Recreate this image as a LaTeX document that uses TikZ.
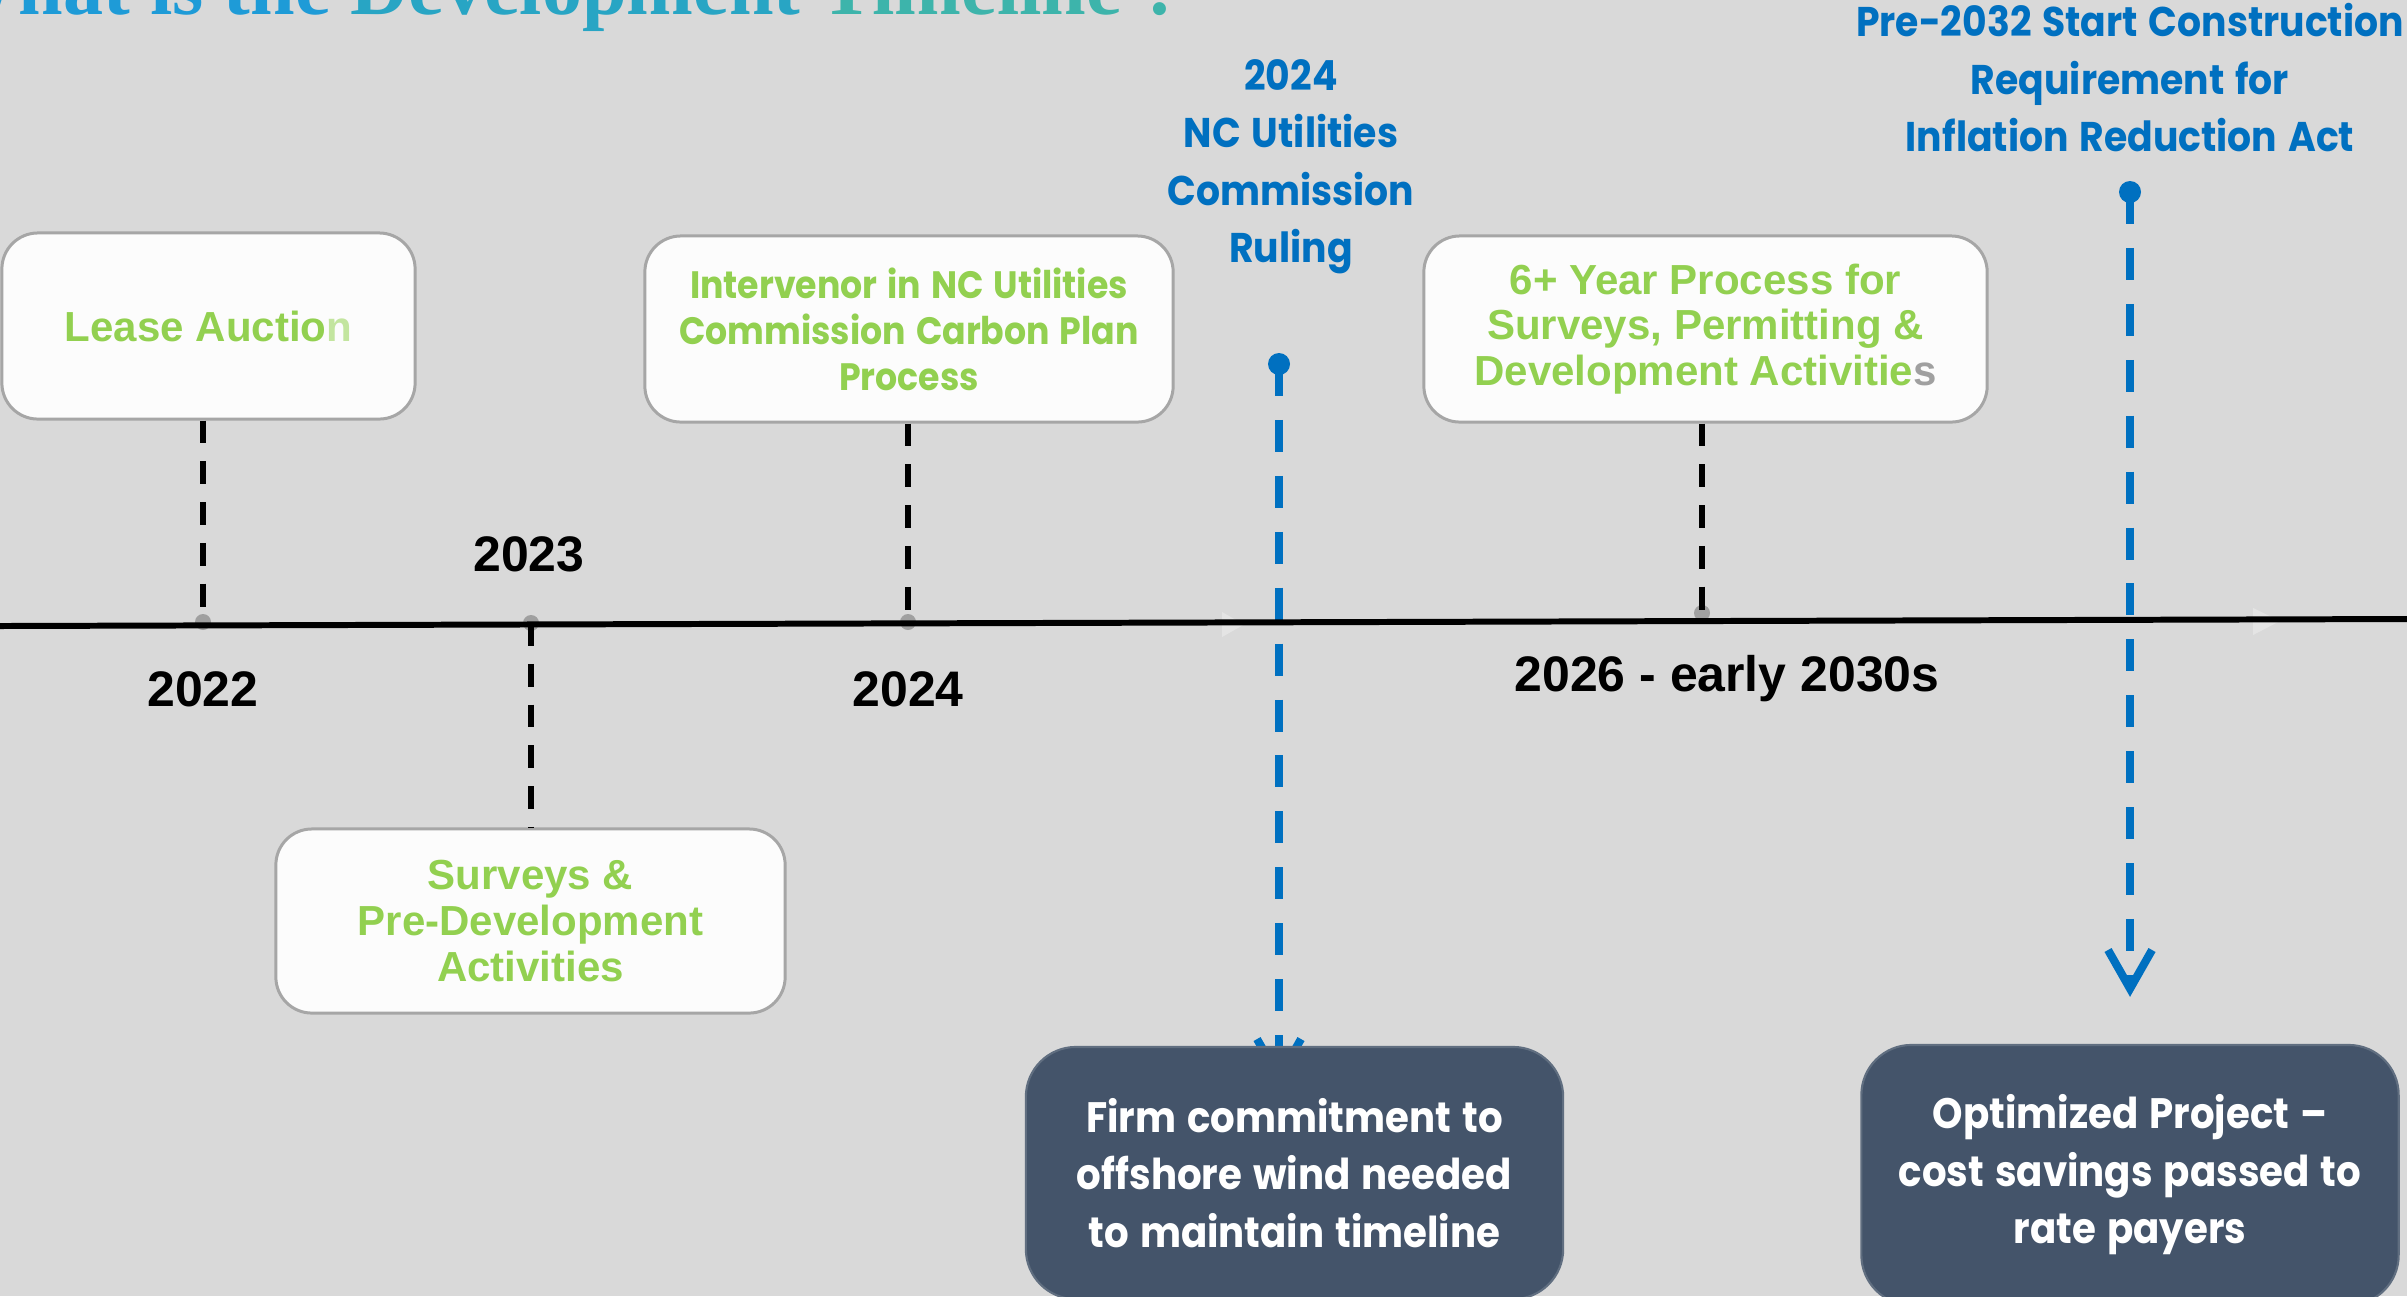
\documentclass[tikz,border=0pt]{standalone}
\usepackage{fontspec}
\setmainfont{Liberation Sans}
\newfontfamily\titleserif{Liberation Serif}
\newfontfamily\geosans[FakeStretch=0.91,WordSpace=1.35]{Poppins}
\usepackage{tikz}
\usetikzlibrary{arrows.meta,backgrounds}

\definecolor{slidebg}{HTML}{D9D9D9}
\definecolor{leafgreen}{HTML}{92D050}
\definecolor{boxline}{HTML}{A6A6A6}
\definecolor{boxfill}{HTML}{FCFCFC}
\definecolor{dotgray}{HTML}{A0A0A0}
\definecolor{pinblue}{HTML}{0070C0}
\definecolor{slate}{HTML}{44546A}
\definecolor{titleA}{HTML}{1E9BD7}
\definecolor{titleB}{HTML}{28A5C4}
\definecolor{titleC}{HTML}{3DB4AB}

% font sizes (1px = 0.01cm)
\newcommand{\greenfont}{\fontsize{11.95pt}{12.95pt}\selectfont\bfseries}
\newcommand{\yearfont}{\fontsize{14.2pt}{16pt}\selectfont\bfseries}
\newcommand{\interfont}{\geosans\fontsize{10.85pt}{13.1pt}\selectfont\bfseries}
\newcommand{\bluefont}{\geosans\fontsize{11.8pt}{16.3pt}\selectfont\bfseries}
\newcommand{\whitefont}{\geosans\fontsize{12.1pt}{16.35pt}\selectfont\bfseries}
\newcommand{\titlefont}{\titleserif\fontsize{22.8pt}{26pt}\selectfont\bfseries}

\newcommand{\drawPin}[3]{% name, center: x,y
  \node[pinhead] (#1) at (#2,#3) {};
}
\newcommand{\drawTick}[3]{% name, center: x,y
  \node[tickdot] (#1) at (#2,#3) {};
}

\begin{document}
\begin{tikzpicture}[x=0.01cm,y=-0.01cm,
  eventbox/.style={draw=boxline,line width=0.85pt,fill=boxfill,rounded corners=0.36cm,
    inner sep=0pt,align=center,text=leafgreen,font=\greenfont,minimum height=1.86cm},
  outcomebox/.style={draw=slate!85!white,line width=0.6pt,fill=slate,rounded corners=0.5cm,
    inner sep=0pt,align=center,text=white,font=\whitefont,minimum width=5.37cm,minimum height=2.52cm},
  tickdot/.style={circle,fill=dotgray,inner sep=0pt,minimum size=0.16cm},
  pinhead/.style={circle,fill=pinblue,inner sep=0pt,minimum size=0.22cm},
  tickline/.style={line width=1.7pt,dash pattern=on 6.5pt off 5.1pt},
  bluelink/.style={pinblue,line width=2.3pt,dash pattern=on 9.1pt off 6.8pt,
    -{Straight Barb[length=11pt,width=12.5pt]}},
  yearlabel/.style={font=\yearfont,anchor=base,inner sep=0pt},
  milestone/.style={font=\bluefont,text=pinblue,align=center,anchor=north,inner sep=0pt}]
\useasboundingbox (0,0) rectangle (2407,1296);

% Title (cut at the top edge)
\node[anchor=base west,inner sep=0pt,font=\titlefont] (title) at (-62,14)
  {\textcolor{titleA}{What is the} \textcolor{titleB}{Development} \textcolor{titleC}{Timeline ?}};

% Event boxes
\node[eventbox,minimum width=4.13cm] (lease) at (208.5,326) {Lease Auctio{\color{leafgreen!55!white}n}};
\node[eventbox,minimum width=5.28cm,font=\interfont] (interv) at (909,329)
  {Intervenor in NC Utilities\\Commission Carbon Plan\\Process};
\node[eventbox,minimum width=5.63cm] (six) at (1705.5,329)
  {6+ Year Process for\\Surveys, Permitting \&\\Development Activitie{\color{dotgray}s}};
\node[eventbox,minimum width=5.09cm,minimum height=1.84cm] (surv) at (530.5,921)
  {Surveys \&\\Pre-Development\\Activities};

% Outcome boxes
\node[outcomebox] (firm) at (1294.5,1173)
  {Firm commitment to\\offshore wind needed\\to maintain timeline};
\node[outcomebox,minimum height=2.6cm] (opt) at (2130,1175)
  {Optimized Project –\\cost savings passed to\\rate payers};

% Faint arrow marks on the axis
\fill[white,opacity=0.3] (1222,612) -- (1244,624.5) -- (1222,637) -- cycle;
\fill[white,opacity=0.3] (2253,608) -- (2280,621) -- (2253,635) -- cycle;

% Ticks and dashed leaders
\drawTick{d22}{203}{622}
\drawTick{d23}{531}{623}
\drawTick{d24}{908}{622}
\drawTick{d26}{1702}{613}
\draw[tickline] (d22 |- lease.south) -- (d22.center);
\draw[tickline] (d23.center) -- (d23 |- surv.north);
\draw[tickline] (d24 |- interv.south) -- (d24.center);
\draw[tickline] (d26 |- six.south) -- (d26.center);

% Time axis
\coordinate (tlL) at (0,626);
\coordinate (tlR) at (2407,619);
\draw[line width=1.7pt] (tlL) -- (tlR);

% Year labels
\node[yearlabel] (y22) at (203,706) {2022};
\node[yearlabel] (y23) at (529,571) {2023};
\node[yearlabel] (y24) at (908,706) {2024};
\node[yearlabel] (y26) at (1727,691) {2026 - early 2030s};

% Milestones
\node[milestone] (ruling) at (1291,59) {2024\\NC Utilities\\Commission\\Ruling};
\node[milestone] (ira) at (2130,3) {Pre-2032 Start Construction\\Requirement for\\Inflation Reduction Act};
\drawPin{pinR}{1279}{364}
\drawPin{pinP}{2130}{192}
\draw[bluelink,shorten >=0.47cm] (pinP.center) -- (pinP |- opt.north);

% Background and the arrow hidden under the firm box
\begin{pgfonlayer}{background}
\fill[slidebg] (0,0) rectangle (2407,1296);
\draw[bluelink,shorten >=-0.40cm] (pinR.center) -- (pinR |- firm.north);
\end{pgfonlayer}
\end{tikzpicture}
\end{document}
